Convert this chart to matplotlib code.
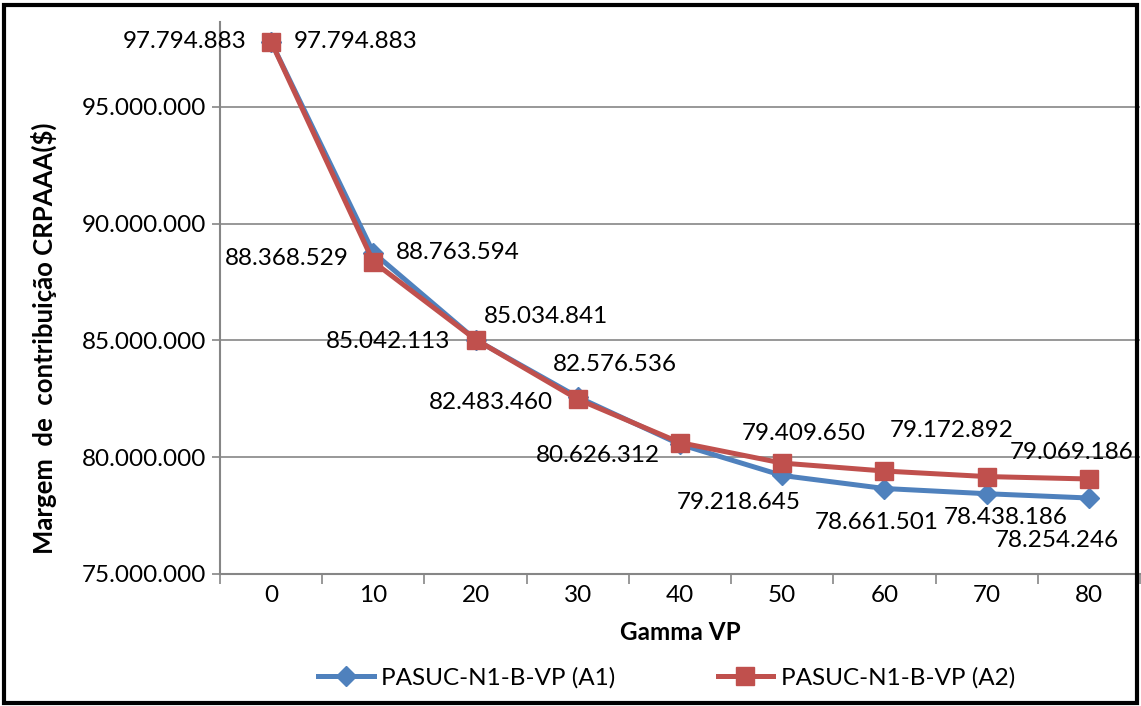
import matplotlib.pyplot as plt
from matplotlib.patches import Rectangle
import numpy as np

plt.rcParams['font.family'] = ['Lato', 'DejaVu Sans']

gamma = [0, 10, 20, 30, 40, 50, 60, 70, 80]
a1 = [97794883, 88763594, 85034841, 82576536, 80550000, 79218645, 78661501, 78438186, 78254246]
a2 = [97794883, 88368529, 85042113, 82483460, 80626312, 79750000, 79409650, 79172892, 79069186]
a1_labeled = [True, True, True, True, False, True, True, True, True]
a2_labeled = [True, True, True, True, True, False, True, True, True]

series_names = ['PASUC-N1-B-VP (A1)', 'PASUC-N1-B-VP (A2)']
yticks = [75000000, 80000000, 85000000, 90000000, 95000000]

# label offsets in pixels (dx, dy), dy up
a1_off = [(85, 0), (84, 0), (70, 23), (37, 33), (0, 0), (-43, -27), (-8, -34), (19, -24), (-32, -42)]
a2_off = [(-86, 0), (-87, 3), (-87, -2), (-87, -3), (-82, -13), (0, 0), (-81, 38), (-35, 46), (-17, 26)]

blue = '#4F81BD'
red = '#C0504D'
grid_c = '#868686'
fs = 17.5


def fmt(v):
    return f"{v:,.0f}".replace(",", ".")


W, H = 1141, 706
fig = plt.figure(figsize=(W / 100, H / 100), dpi=100)
ax = fig.add_axes((220 / W, 1 - 574 / H, 920 / W, (574 - 22) / H))

x = np.arange(len(gamma))
ax.plot(x, a1, color=blue, lw=3.6, marker='D', ms=10, mec=blue, mfc=blue,
        label=series_names[0], zorder=3)
ax.plot(x, a2, color=red, lw=3.6, marker='s', ms=13, mec=red, mfc=red,
        label=series_names[1], zorder=4)

for xi, v, ok, off in zip(x, a1, a1_labeled, a1_off):
    if ok:
        ax.annotate(fmt(v), (xi, v), xytext=off, textcoords='offset pixels',
                    ha='center', va='center', fontsize=fs, color='black', zorder=5)
for xi, v, ok, off in zip(x, a2, a2_labeled, a2_off):
    if ok:
        ax.annotate(fmt(v), (xi, v), xytext=off, textcoords='offset pixels',
                    ha='center', va='center', fontsize=fs, color='black', zorder=5)

ax.set_xlim(-0.5, len(gamma) - 0.5)
ax.set_ylim(75000000, 98640000)
ax.set_yticks(yticks)
ax.set_yticklabels([fmt(v) for v in yticks], fontsize=fs)
ax.yaxis.grid(True, color=grid_c, lw=1.2)
ax.set_axisbelow(True)

# category labels centred, tick marks on boundaries
ax.set_xticks(x)
ax.set_xticklabels([str(g) for g in gamma], fontsize=fs)
ax.tick_params(axis='x', length=0, pad=8)
ax.set_xticks(np.arange(-0.5, len(gamma), 1), minor=True)
ax.tick_params(axis='x', which='minor', length=7, width=1.2, color=grid_c)
ax.tick_params(axis='y', length=6, width=1.2, color=grid_c, pad=4)

for s in ['top', 'right']:
    ax.spines[s].set_visible(False)
for s in ['left', 'bottom']:
    ax.spines[s].set_color(grid_c)
    ax.spines[s].set_linewidth(1.5)

fig.text(680 / W, 1 - 632 / H, 'Gamma VP', ha='center', va='center',
         fontsize=fs, fontweight='bold')
fig.text(44 / W, 1 - 338 / H, 'Margem  de  contribuição CRPAAA($)', ha='center',
         va='center', rotation=90, fontsize=18.5, fontweight='bold')

fig.legend(loc='center left', bbox_to_anchor=(318 / W, 1 - 678 / H), ncol=2,
           frameon=False, fontsize=fs, handlelength=2.3, handletextpad=0.3,
           columnspacing=4.2, borderpad=0, borderaxespad=0)

fig.patches.append(Rectangle((4 / W, 3 / H), 1133 / W, 698 / H, transform=fig.transFigure,
                             fill=False, edgecolor='black', lw=3, zorder=10))

fig.savefig('out.png', dpi=100)
